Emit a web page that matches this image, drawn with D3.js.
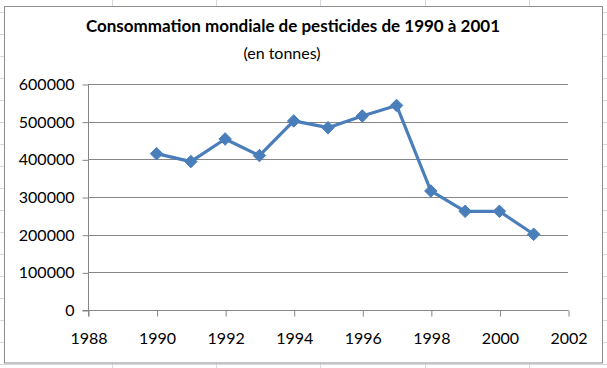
<!DOCTYPE html>
<html><head><meta charset="utf-8">
<script src="https://cdn.jsdelivr.net/npm/d3@7"></script>
<style>body{margin:0;background:#fff}svg{display:block}</style>
</head><body>
<script>
const years = [1990,1991,1992,1993,1994,1995,1996,1997,1998,1999,2000,2001];
const values = [415000,394000,454000,410000,502000,484000,515000,543000,316000,262000,262000,201000];
const xTicks = [1988,1990,1992,1994,1996,1998,2000,2002];
const yTicks = [0,100000,200000,300000,400000,500000,600000];
const title = "Consommation mondiale de pesticides de 1990 à 2001";
const subtitle = "(en tonnes)";

const W = 607, H = 368;
const svg = d3.select("body").append("svg").attr("width", W).attr("height", H);

// spreadsheet background grid
const bg = svg.append("g").attr("stroke", "#d4d8de").attr("stroke-width", 1);
[112,216,320,425,529].forEach(x => bg.append("line").attr("x1", x+0.5).attr("x2", x+0.5).attr("y1", 0).attr("y2", H));
d3.range(12, H, 22).forEach(y => bg.append("line").attr("x1", 0).attr("x2", W).attr("y1", y+0.5).attr("y2", y+0.5));

// chart area
svg.append("rect").attr("x", 4.5).attr("y", 6.5).attr("width", 598).attr("height", 356.5)
  .attr("fill", "#fff").attr("stroke", "#8c8c8c").attr("stroke-width", 1);

const x = d3.scaleLinear().domain([1988, 2002]).range([88, 568]);
const y = d3.scaleLinear().domain([0, 600000]).range([310, 84]);

const font = "Lato, 'Open Sans', sans-serif";

// gridlines
svg.append("g").selectAll("line").data(yTicks.filter(d => d > 0)).join("line")
  .attr("x1", x(1988)).attr("x2", x(2002))
  .attr("y1", d => Math.round(y(d)) + 0.5).attr("y2", d => Math.round(y(d)) + 0.5)
  .attr("stroke", "#868686").attr("stroke-width", 1);

// y axis
const yAxis = svg.append("g").attr("transform", `translate(${x(1988)+0.5},0.5)`)
  .call(d3.axisLeft(y).tickValues(yTicks).tickFormat(d3.format("d")).tickSize(6).tickSizeOuter(0).tickPadding(8));
// x axis
const xAxis = svg.append("g").attr("transform", `translate(0.5,${Math.round(y(0))+0.5})`)
  .call(d3.axisBottom(x).tickValues(xTicks).tickFormat(d3.format("d")).tickSize(6).tickSizeOuter(0).tickPadding(16));
[yAxis, xAxis].forEach(a => {
  a.select(".domain").attr("stroke", "#868686");
  a.selectAll(".tick line").attr("stroke", "#868686");
  a.selectAll("text").attr("fill", "#000").style("font-family", font).style("font-size", "16px");
});
yAxis.select(".domain").attr("d", `M0,${y(600000)}V${y(0)+6}`);
xAxis.select(".domain").attr("d", `M${x(1988)-6},0H${x(2002)}`);

// line
const data = years.map((yr, i) => ({yr, v: values[i]}));
svg.append("path").datum(data)
  .attr("fill", "none").attr("stroke", "#4a7ebb").attr("stroke-width", 3.2).attr("stroke-linejoin", "round")
  .attr("d", d3.line().x(d => x(d.yr)).y(d => y(d.v)));
svg.append("g").selectAll("path").data(data).join("path")
  .attr("transform", d => `translate(${x(d.yr)},${y(d.v)})`)
  .attr("d", d3.symbol(d3.symbolDiamond2, 100)())
  .attr("fill", "#4a7ebb").attr("stroke", "#4a7ebb").attr("stroke-width", 1);

// titles
svg.append("text").attr("x", 293).attr("y", 32).attr("text-anchor", "middle")
  .style("font-family", font).style("font-weight", "bold").style("font-size", "17px").attr("fill", "#000")
  .text(title);
svg.append("text").attr("x", 282).attr("y", 59).attr("text-anchor", "middle")
  .style("font-family", font).style("font-size", "16px").attr("fill", "#000")
  .text(subtitle);
</script>
</body></html>
